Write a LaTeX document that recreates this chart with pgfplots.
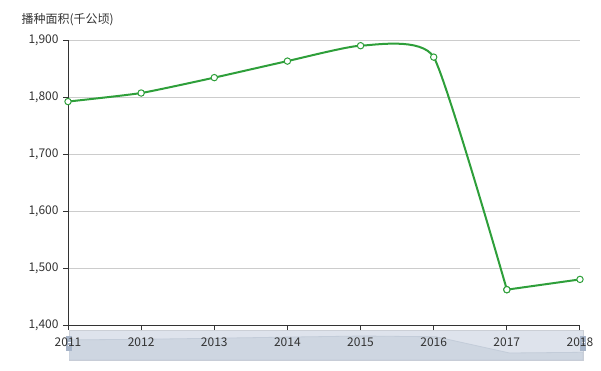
\documentclass[border=0pt]{standalone}
\usepackage{fontspec}
\setmainfont{Noto Sans CJK SC}
\usepackage{pgfplots}
\pgfplotsset{compat=1.18}
\definecolor{lg}{HTML}{2E9F3A}
\definecolor{txt}{HTML}{333333}
\definecolor{gridc}{HTML}{CCCCCC}
\definecolor{sbg}{HTML}{DEE3EC}
\definecolor{sshadow}{HTML}{CED6E1}
\definecolor{sline}{HTML}{C3CCD9}
\definecolor{hnd}{HTML}{A7B4C8}
\begin{document}
\begin{tikzpicture}
\path[use as bounding box] (0pt,0pt) rectangle (601pt,370pt);
% slider
\begin{axis}[at={(69pt,10pt)}, anchor=south west, scale only axis,
  width=514pt, height=30pt, xmin=2011, xmax=2018, ymin=1286, ymax=2041,
  axis background/.style={fill=sbg}, axis line style={draw=sbg!80!gray},
  ticks=none, clip=true]
\addplot[fill=sshadow, draw=sline, line width=0.8pt] coordinates {
(2011,1792) (2012,1807) (2013,1834) (2014,1863) (2015,1890) (2016,1870) (2017,1462) (2018,1480)} \closedcycle;
\end{axis}
\fill[hnd] (66pt,19pt) rectangle (72pt,34pt);
\fill[hnd] (580pt,19pt) rectangle (586pt,34pt);
\draw[white, line width=0.6pt] (67.5pt,25pt) -- (70.5pt,25pt) (67.5pt,28pt) -- (70.5pt,28pt);
\draw[white, line width=0.6pt] (581.5pt,25pt) -- (584.5pt,25pt) (581.5pt,28pt) -- (584.5pt,28pt);
% main
\begin{axis}[at={(68pt,45pt)}, anchor=south west, scale only axis,
  width=512pt, height=285pt, xmin=2011, xmax=2018, ymin=1400, ymax=1900,
  xtick={2011,2012,...,2018}, ytick={1400,1500,...,1900},
  /pgf/number format/assume math mode=true,
  x tick label style={/pgf/number format/1000 sep={}, text=txt, font=\fontsize{12}{14}\selectfont, yshift=-4pt},
  y tick label style={/pgf/number format/1000 sep={,}, text=txt, font=\fontsize{12}{14}\selectfont, xshift=-1pt},
  axis lines*=left, axis line style={draw=txt, line width=1pt},
  tick align=outside, major tick length=5pt, tick style={draw=txt, line width=1pt},
  ymajorgrids, grid style={draw=gridc, line width=0.8pt},
  clip=false]
\addplot[lg, line width=2pt, mark=*, mark size=3.2pt,
  mark options={fill=white, draw=lg, line width=1pt}] coordinates {
(2017,1462) (2018,1480)};
\addplot[lg, line width=2pt, smooth, tension=0.3, mark=*, mark size=3.2pt,
  mark options={fill=white, draw=lg, line width=1pt}] coordinates {
(2011,1792) (2012,1807) (2013,1834) (2014,1863) (2015,1890) (2016,1870) (2017,1462)};
\end{axis}
\node[anchor=west, text=txt, font=\fontsize{12}{14}\selectfont] at (18pt,350pt) {播种面积(千公顷)};
\end{tikzpicture}
\end{document}
